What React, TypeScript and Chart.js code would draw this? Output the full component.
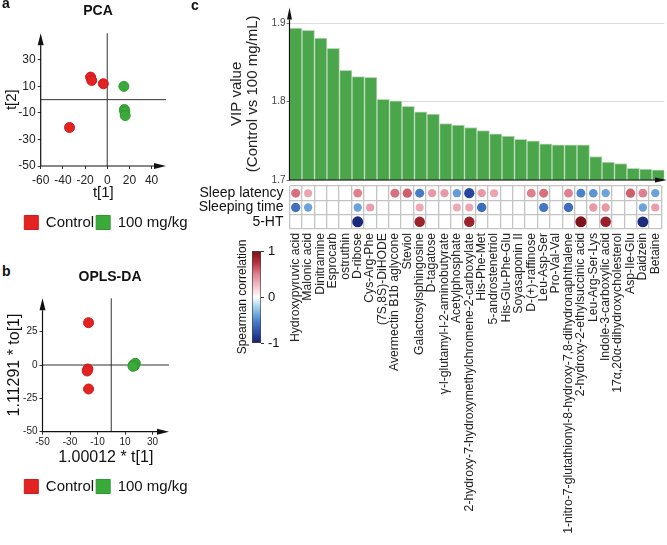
import React, { useEffect, useRef } from 'react';
import { Chart, registerables } from 'chart.js';

Chart.register(...registerables);

const FONT = "'Liberation Sans', Arial, Helvetica, sans-serif";

// ---------- Panel a: PCA ----------
const groupNames = ['Control', '100 mg/kg'];
const pcaControl = [
  { x: -15, y: 17 },
  { x: -14, y: 14.5 },
  { x: -3.5, y: 12 },
  { x: -34, y: -21 },
];
const pcaDose = [
  { x: 15, y: 10 },
  { x: 15.5, y: -7.5 },
  { x: 15.8, y: -9 },
  { x: 16.2, y: -12 },
];
const pcaXTicks = [-60, -40, -20, 0, 20, 40];
const pcaYTicks = [-50, -30, -10, 10, 30];

// ---------- Panel b: OPLS-DA ----------
const oplsControl = [
  { x: -16.5, y: 31.7 },
  { x: -17, y: -3 },
  { x: -17.5, y: -4.5 },
  { x: -16.5, y: -18 },
];
const oplsDose = [
  { x: 16, y: 0 },
  { x: 17.5, y: 1.3 },
  { x: 16.8, y: -0.5 },
  { x: 15.8, y: -1 },
];
const oplsXTicks = [-50, -30, -10, 10, 30];
const oplsYTicks = [-50, -25, 0, 25];

// ---------- Panel c: VIP + correlation ----------
const metabolites = [
  'Hydroxypyruvic acid',
  'Malonic acid',
  'Dinitramine',
  'Esprocarb',
  'ostruthin',
  'D-ribose',
  'Cys-Arg-Phe',
  '(7S,8S)-DiHODE',
  'Avermectin B1b aglycone',
  'Steviol',
  'Galactosylsphingosine',
  'D-tagatose',
  'γ-l-glutamyl-l-2-aminobutyrate',
  'Acetylphosphate',
  '2-hydroxy-7-hydroxymethylchromene-2-carboxylate',
  'His-Phe-Met',
  '5-androstenetriol',
  'His-Glu-Phe-Glu',
  'Soyasaponin II',
  'D-(+)-raffinose',
  'Leu-Asp-Ser',
  'Pro-Val-Val',
  '1-nitro-7-glutathionyl-8-hydroxy-7,8-dihydronaphthalene',
  '2-hydroxy-2-ethylsuccinic acid',
  'Leu-Arg-Ser-Lys',
  'Indole-3-carboxylic acid',
  '17α,20α-dihydroxycholesterol',
  'Asp-Ile-Glu',
  'Daidzein',
  'Betaine',
];
const vipValues = [
  1.894, 1.891, 1.881, 1.868, 1.840, 1.832, 1.831, 1.803, 1.801, 1.794,
  1.787, 1.784, 1.772, 1.770, 1.767, 1.763, 1.759, 1.756, 1.752, 1.750,
  1.746, 1.745, 1.745, 1.745, 1.730, 1.723, 1.721, 1.715, 1.714, 1.713,
];
const vipTicks = [1.7, 1.8, 1.9];

const rowNames = ['Sleep latency', 'Sleeping time', '5-HT'];
const sleepLatency = [
  0.55, 0.35, null, null, null, 0.5, null, null, 0.55, 0.6,
  -0.55, 0.4, 0.4, -0.42, -0.8, 0.4, 0.35, null, null, 0.5,
  0.55, null, 0.5, -0.52, -0.45, -0.4, null, 0.6, 0.5, -0.4,
];
const sleepingTime = [
  -0.6, -0.4, null, null, null, -0.4, 0.38, null, null, null,
  0.33, null, null, 0.33, 0.35, -0.62, null, null, null, null,
  -0.58, null, -0.62, null, 0.4, 0.4, null, null, -0.4, 0.38,
];
const serotonin = [
  null, null, null, null, null, -0.95, null, null, null, null,
  0.85, null, null, null, 0.85, null, null, null, null, null,
  null, null, null, 0.97, null, 0.87, null, null, -0.93, null,
];
const colorbarTicks = [-1, 0, 1];

// ---------- helpers ----------
const corrStops: [number, number[]][] = [
  [-1, [22, 32, 112]],
  [-0.75, [45, 80, 168]],
  [-0.5, [78, 135, 205]],
  [-0.25, [150, 203, 234]],
  [0, [255, 255, 255]],
  [0.25, [244, 190, 199]],
  [0.5, [222, 128, 142]],
  [0.75, [180, 48, 58]],
  [1, [120, 14, 24]],
];
function corrColor(v: number) {
  const t = Math.max(-1, Math.min(1, v));
  for (let i = 0; i < corrStops.length - 1; i++) {
    const [a, ca] = corrStops[i];
    const [b, cb] = corrStops[i + 1];
    if (t >= a && t <= b) {
      const f = (t - a) / (b - a);
      const c = ca.map((x, k) => Math.round(x + (cb[k] - x) * f));
      return `rgb(${c[0]},${c[1]},${c[2]})`;
    }
  }
  return 'rgb(255,255,255)';
}

function noScalePadding(ax: any) {
  ax.paddingTop = 0;
  ax.paddingBottom = 0;
  ax.paddingLeft = 0;
  ax.paddingRight = 0;
}

function axesPlugin(o: { cross: boolean; len: number; half: number; tipX?: number }) {
  return {
    id: 'arrowAxes',
    beforeDatasetsDraw(chart: any) {
      if (!o.cross) return;
      const { ctx, chartArea: a, scales } = chart;
      const x0 = scales.x.getPixelForValue(0);
      const y0 = scales.y.getPixelForValue(0);
      ctx.save();
      ctx.strokeStyle = '#333';
      ctx.lineWidth = 1;
      ctx.beginPath();
      ctx.moveTo(a.left, y0);
      ctx.lineTo(a.right, y0);
      ctx.moveTo(x0, a.top);
      ctx.lineTo(x0, a.bottom);
      ctx.stroke();
      ctx.restore();
    },
    afterDatasetsDraw(chart: any) {
      const { ctx, chartArea: a } = chart;
      const tipX = a.right + (o.tipX || 0);
      ctx.save();
      ctx.strokeStyle = '#111';
      ctx.fillStyle = '#111';
      ctx.lineWidth = 1.2;
      ctx.beginPath();
      ctx.moveTo(a.left, a.top + o.len);
      ctx.lineTo(a.left, a.bottom);
      ctx.lineTo(tipX - o.len, a.bottom);
      ctx.stroke();
      ctx.beginPath();
      ctx.moveTo(a.left, a.top);
      ctx.lineTo(a.left - o.half, a.top + o.len);
      ctx.lineTo(a.left + o.half, a.top + o.len);
      ctx.closePath();
      ctx.fill();
      ctx.beginPath();
      ctx.moveTo(tipX, a.bottom);
      ctx.lineTo(tipX - o.len, a.bottom - o.half);
      ctx.lineTo(tipX - o.len, a.bottom + o.half);
      ctx.closePath();
      ctx.fill();
      ctx.restore();
    },
  };
}

type ScoreParams = {
  control: { x: number; y: number }[];
  dose: { x: number; y: number }[];
  xMin: number; xMax: number; yMin: number; yMax: number;
  xTicks: number[]; yTicks: number[];
  xTitle: string; yTitle: string;
  padTop: number; yAxisW: number; rightW: number; xAxisH: number;
  tickSize: number; titleSize: number; xTickPad: number;
  xTitlePad: number; yTitlePad: number;
};

function scoreConfig(p: ScoreParams): any {
  const tickFont = { family: FONT, size: p.tickSize };
  const titleFont = { family: FONT, size: p.titleSize };
  return {
    type: 'scatter',
    data: {
      datasets: [
        { label: groupNames[0], data: p.control, backgroundColor: '#e32222', borderColor: '#cf1b1b', borderWidth: 1, pointRadius: 5 },
        { label: groupNames[1], data: p.dose, backgroundColor: '#3aaa3a', borderColor: '#2f982f', borderWidth: 1, pointRadius: 5 },
      ],
    },
    options: {
      responsive: false,
      animation: false,
      events: [],
      layout: { padding: { top: p.padTop, left: 0, right: 0, bottom: 0 } },
      plugins: {
        legend: {
          position: 'bottom',
          labels: { boxWidth: 14, boxHeight: 14, padding: 2, color: '#111', font: { family: FONT, size: 15 } },
        },
        tooltip: { enabled: false },
      },
      scales: {
        x: {
          type: 'linear', min: p.xMin, max: p.xMax,
          afterBuildTicks: (ax: any) => { ax.ticks = p.xTicks.map((v) => ({ value: v })); },
          afterFit: (ax: any) => { ax.height = p.xAxisH; noScalePadding(ax); },
          grid: { display: true, drawOnChartArea: false, drawTicks: true, tickLength: 3, tickColor: '#333' },
          border: { display: false },
          ticks: { padding: p.xTickPad, color: '#222', font: tickFont, maxRotation: 0 },
          title: { display: true, text: p.xTitle, color: '#111', font: titleFont, padding: { top: 0, bottom: p.xTitlePad } },
        },
        y: {
          type: 'linear', min: p.yMin, max: p.yMax,
          afterBuildTicks: (ax: any) => { ax.ticks = p.yTicks.map((v) => ({ value: v })); },
          afterFit: (ax: any) => { ax.width = p.yAxisW; noScalePadding(ax); },
          grid: { display: true, drawOnChartArea: false, drawTicks: true, tickLength: 3, tickColor: '#333' },
          border: { display: false },
          ticks: { padding: 2, color: '#222', font: tickFont },
          title: { display: true, text: p.yTitle, color: '#111', font: titleFont, padding: { top: p.yTitlePad, bottom: 0 } },
        },
        yR: {
          position: 'right', display: true,
          ticks: { display: false }, grid: { display: false }, border: { display: false },
          afterFit: (ax: any) => { ax.width = p.rightW; noScalePadding(ax); },
        },
      },
    },
    plugins: [axesPlugin({ cross: true, len: 12, half: 3 })],
  };
}

function barConfig(): any {
  return {
    type: 'bar',
    data: {
      labels: metabolites,
      datasets: [{
        data: vipValues,
        backgroundColor: '#4ba64b',
        borderColor: '#bcd9bc',
        borderWidth: 1,
        borderSkipped: 'start',
        barPercentage: 1,
        categoryPercentage: 1,
      }],
    },
    options: {
      responsive: false,
      animation: false,
      events: [],
      layout: { padding: { top: 7.6, right: 2.5, bottom: 6, left: 0 } },
      plugins: { legend: { display: false }, tooltip: { enabled: false } },
      scales: {
        x: { display: false },
        y: {
          min: 1.7, max: 1.92,
          afterBuildTicks: (ax: any) => { ax.ticks = vipTicks.map((v) => ({ value: v })); },
          afterFit: (ax: any) => { ax.width = 119.5; noScalePadding(ax); },
          grid: { color: '#dcdcdc', lineWidth: 1, drawTicks: true, tickLength: 3, tickColor: '#777' },
          border: { display: false },
          ticks: { padding: 1, color: '#444', font: { family: FONT, size: 10 }, callback: (v: any) => Number(v).toFixed(1) },
          title: {
            display: true,
            text: ['VIP value', '(Control vs 100 mg/mL)'],
            color: '#222',
            font: { family: FONT, size: 15, lineHeight: 1.1 },
            padding: { top: 58.4, bottom: 0 },
          },
        },
      },
    },
    plugins: [axesPlugin({ cross: false, len: 12, half: 2.5, tipX: 2.5 })],
  };
}

function heatConfig(): any {
  const corrRows = [sleepLatency, sleepingTime, serotonin];
  const points: any[] = [];
  corrRows.forEach((row, r) => {
    row.forEach((v, c) => {
      if (v !== null) points.push({ x: metabolites[c], y: rowNames[r], v });
    });
  });
  const gridStyle = { offset: true, color: '#c4c4c4', lineWidth: 1.3, drawTicks: false };
  return {
    type: 'scatter',
    data: {
      datasets: [{
        data: points,
        pointRadius: (ctx: any) => (ctx.raw ? 3.2 + 2.4 * Math.abs(ctx.raw.v) : 0),
        pointBackgroundColor: (ctx: any) => (ctx.raw ? corrColor(ctx.raw.v) : '#fff'),
        pointBorderWidth: 0,
      }],
    },
    options: {
      responsive: false,
      animation: false,
      events: [],
      layout: { padding: { top: 6, right: 2.5, bottom: 0, left: 0 } },
      plugins: { legend: { display: false }, tooltip: { enabled: false } },
      scales: {
        x: {
          type: 'category', labels: metabolites, offset: true,
          grid: gridStyle, border: { display: false },
          ticks: { autoSkip: false, minRotation: 90, maxRotation: 90, padding: 4, color: '#222', font: { family: FONT, size: 12.2 } },
          afterFit: (ax: any) => { ax.height = 316; noScalePadding(ax); },
        },
        y: {
          type: 'category', labels: rowNames, offset: true,
          grid: gridStyle, border: { display: false },
          ticks: { autoSkip: false, padding: 6, color: '#111', font: { family: FONT, size: 14 } },
          afterFit: (ax: any) => { ax.width = 119.5; noScalePadding(ax); },
        },
      },
    },
  };
}

function colorbarConfig(): any {
  return {
    type: 'bar',
    data: {
      labels: [''],
      datasets: [{
        data: [[colorbarTicks[0], colorbarTicks[colorbarTicks.length - 1]]],
        backgroundColor: (ctx: any) => {
          const a = ctx.chart.chartArea;
          if (!a) return '#fff';
          const g = ctx.chart.ctx.createLinearGradient(0, a.bottom, 0, a.top);
          corrStops.forEach(([v]) => g.addColorStop((v + 1) / 2, corrColor(v)));
          return g;
        },
        borderColor: '#444',
        borderWidth: 1,
        borderSkipped: false,
        barPercentage: 1,
        categoryPercentage: 1,
      }],
    },
    options: {
      responsive: false,
      animation: false,
      events: [],
      layout: { padding: { top: 11, bottom: 12, left: 0, right: 0 } },
      plugins: { legend: { display: false }, tooltip: { enabled: false } },
      scales: {
        x: { display: false },
        y: {
          position: 'right', min: -1, max: 1,
          afterBuildTicks: (ax: any) => { ax.ticks = colorbarTicks.map((v) => ({ value: v })); },
          afterFit: (ax: any) => { ax.width = 29; noScalePadding(ax); },
          grid: { drawOnChartArea: false, drawTicks: true, tickLength: 3, tickColor: '#333' },
          border: { display: false },
          ticks: { padding: 4, color: '#111', font: { family: FONT, size: 13 } },
        },
        yT: {
          position: 'left', min: -1, max: 1,
          ticks: { display: false }, grid: { display: false }, border: { display: false },
          title: { display: true, text: 'Spearman correlation', color: '#111', font: { family: FONT, size: 12 }, padding: { top: 10, bottom: 0 } },
          afterFit: (ax: any) => { ax.width = 27; noScalePadding(ax); },
        },
      },
    },
  };
}

function ChartCanvas(props: { left: number; top: number; width: number; height: number; make: () => any }) {
  const ref = useRef<HTMLCanvasElement | null>(null);
  useEffect(() => {
    if (!ref.current) return;
    const chart = new Chart(ref.current, props.make());
    return () => chart.destroy();
  }, []);
  return (
    <canvas
      ref={ref}
      width={props.width}
      height={props.height}
      style={{ position: 'absolute', left: props.left, top: props.top, width: props.width, height: props.height }}
    />
  );
}

const labelStyle = (left: number, top: number, center = false): React.CSSProperties => ({
  position: 'absolute',
  left,
  top,
  font: `bold 14px ${FONT}`,
  lineHeight: '14px',
  color: '#111',
  whiteSpace: 'nowrap',
  transform: center ? 'translateX(-50%)' : undefined,
});

export default function App() {
  return (
    <div style={{ position: 'absolute', left: 0, top: 0, width: 667, height: 545, overflow: 'hidden', background: '#fff' }}>
      <ChartCanvas
        left={0} top={0} width={212} height={240}
        make={() => scoreConfig({
          control: pcaControl, dose: pcaDose,
          xMin: -60, xMax: 53, yMin: -50, yMax: 50,
          xTicks: pcaXTicks, yTicks: pcaYTicks,
          xTitle: 't[1]', yTitle: 't[2]',
          padTop: 33.3, yAxisW: 40.7, rightW: 46, xAxisH: 47,
          tickSize: 12, titleSize: 15, xTickPad: 4, xTitlePad: 11, yTitlePad: 2.7,
        })}
      />
      <ChartCanvas
        left={0} top={280} width={212} height={224}
        make={() => scoreConfig({
          control: oplsControl, dose: oplsDose,
          xMin: -50, xMax: 42, yMin: -50, yMax: 50,
          xTicks: oplsXTicks, yTicks: oplsYTicks,
          xTitle: '1.00012 * t[1]', yTitle: '1.11291 * to[1]',
          padTop: 18.3, yAxisW: 42.5, rightW: 43, xAxisH: 45.3,
          tickSize: 10, titleSize: 16, xTickPad: 2, xTitlePad: 9.4, yTitlePad: 4.9,
        })}
      />
      <ChartCanvas left={170} top={0} width={497} height={186} make={barConfig} />
      <ChartCanvas left={170} top={180} width={497} height={365} make={heatConfig} />
      <ChartCanvas left={225} top={240} width={65} height={115} make={colorbarConfig} />
      <div style={labelStyle(2, -4.3)}>a</div>
      <div style={labelStyle(98, 3, true)}>PCA</div>
      <div style={labelStyle(2, 264)}>b</div>
      <div style={labelStyle(110, 269, true)}>OPLS-DA</div>
      <div style={labelStyle(191, -2.5)}>c</div>
    </div>
  );
}
